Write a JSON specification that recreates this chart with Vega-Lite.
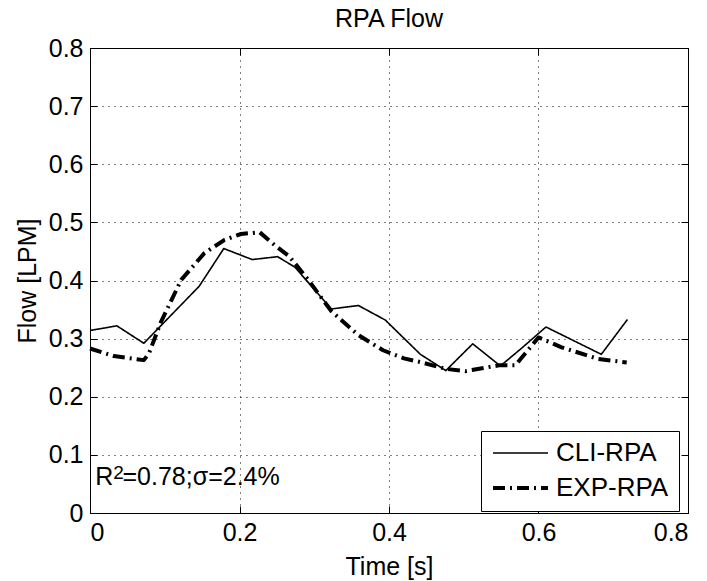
{
  "$schema": "https://vega.github.io/schema/vega-lite/v6.json",
  "width": 598,
  "height": 465,
  "autosize": {"type": "none"},
  "padding": {"left": 90, "top": 48, "right": 19, "bottom": 68},
  "background": "white",
  "title": {"text": "RPA Flow", "fontSize": 25, "fontWeight": "normal", "font": "Liberation Sans", "color": "black", "offset": 4},
  "config": {
    "view": {"stroke": "black", "strokeWidth": 1},
    "font": "Liberation Sans",
    "axis": {
      "labelFont": "Liberation Sans", "labelFontSize": 25, "labelColor": "black",
      "titleFont": "Liberation Sans", "titleFontSize": 25, "titleFontWeight": "normal", "titleColor": "black",
      "domainColor": "black", "tickColor": "black", "tickSize": -7, "tickWidth": 1,
      "gridColor": "black", "gridDash": [1, 5], "gridWidth": 1, "gridOpacity": 1
    },
    "legend": {
      "orient": "none", "legendX": 391, "legendY": 383,
      "strokeColor": "black", "fillColor": "white", "padding": 10,
      "labelFont": "Liberation Sans", "labelFontSize": 26, "labelColor": "black",
      "symbolSize": 3025, "symbolStrokeColor": "black", "rowPadding": 9, "labelOffset": 6,
      "clipHeight": 24,
      "title": null
    }
  },
  "data": {"values": [
    {"t": 0, "flow": 0.314, "series": "CLI-RPA"},
    {"t": 0.036, "flow": 0.322, "series": "CLI-RPA"},
    {"t": 0.072, "flow": 0.292, "series": "CLI-RPA"},
    {"t": 0.146, "flow": 0.39, "series": "CLI-RPA"},
    {"t": 0.179, "flow": 0.455, "series": "CLI-RPA"},
    {"t": 0.217, "flow": 0.436, "series": "CLI-RPA"},
    {"t": 0.251, "flow": 0.441, "series": "CLI-RPA"},
    {"t": 0.274, "flow": 0.423, "series": "CLI-RPA"},
    {"t": 0.323, "flow": 0.351, "series": "CLI-RPA"},
    {"t": 0.359, "flow": 0.357, "series": "CLI-RPA"},
    {"t": 0.395, "flow": 0.332, "series": "CLI-RPA"},
    {"t": 0.442, "flow": 0.273, "series": "CLI-RPA"},
    {"t": 0.476, "flow": 0.245, "series": "CLI-RPA"},
    {"t": 0.512, "flow": 0.291, "series": "CLI-RPA"},
    {"t": 0.549, "flow": 0.253, "series": "CLI-RPA"},
    {"t": 0.576, "flow": 0.282, "series": "CLI-RPA"},
    {"t": 0.61, "flow": 0.32, "series": "CLI-RPA"},
    {"t": 0.684, "flow": 0.273, "series": "CLI-RPA"},
    {"t": 0.719, "flow": 0.333, "series": "CLI-RPA"},
    {"t": 0, "flow": 0.283, "series": "EXP-RPA"},
    {"t": 0.032, "flow": 0.27, "series": "EXP-RPA"},
    {"t": 0.072, "flow": 0.263, "series": "EXP-RPA"},
    {"t": 0.079, "flow": 0.275, "series": "EXP-RPA"},
    {"t": 0.095, "flow": 0.329, "series": "EXP-RPA"},
    {"t": 0.122, "flow": 0.401, "series": "EXP-RPA"},
    {"t": 0.153, "flow": 0.447, "series": "EXP-RPA"},
    {"t": 0.18, "flow": 0.47, "series": "EXP-RPA"},
    {"t": 0.202, "flow": 0.48, "series": "EXP-RPA"},
    {"t": 0.227, "flow": 0.483, "series": "EXP-RPA"},
    {"t": 0.247, "flow": 0.461, "series": "EXP-RPA"},
    {"t": 0.267, "flow": 0.441, "series": "EXP-RPA"},
    {"t": 0.292, "flow": 0.401, "series": "EXP-RPA"},
    {"t": 0.323, "flow": 0.347, "series": "EXP-RPA"},
    {"t": 0.359, "flow": 0.306, "series": "EXP-RPA"},
    {"t": 0.392, "flow": 0.28, "series": "EXP-RPA"},
    {"t": 0.42, "flow": 0.266, "series": "EXP-RPA"},
    {"t": 0.444, "flow": 0.259, "series": "EXP-RPA"},
    {"t": 0.476, "flow": 0.248, "series": "EXP-RPA"},
    {"t": 0.502, "flow": 0.244, "series": "EXP-RPA"},
    {"t": 0.547, "flow": 0.254, "series": "EXP-RPA"},
    {"t": 0.569, "flow": 0.254, "series": "EXP-RPA"},
    {"t": 0.6, "flow": 0.302, "series": "EXP-RPA"},
    {"t": 0.631, "flow": 0.285, "series": "EXP-RPA"},
    {"t": 0.68, "flow": 0.265, "series": "EXP-RPA"},
    {"t": 0.718, "flow": 0.259, "series": "EXP-RPA"}
  ]},
  "layer": [
    {
      "mark": {"type": "line", "color": "black", "strokeJoin": "round"},
      "encoding": {
        "x": {"field": "t", "type": "quantitative", "scale": {"domain": [0, 0.8], "nice": false},
              "axis": {"title": "Time [s]", "values": [0, 0.2, 0.4, 0.6, 0.8], "format": ".1~f", "labelPadding": 14, "titlePadding": 9}},
        "y": {"field": "flow", "type": "quantitative", "scale": {"domain": [0, 0.8], "nice": false},
              "axis": {"title": "Flow [LPM]", "values": [0, 0.1, 0.2, 0.3, 0.4, 0.5, 0.6, 0.7, 0.8], "format": ".1~f", "labelPadding": 14, "titlePadding": 8}},
        "strokeDash": {"field": "series", "type": "nominal", "scale": {"domain": ["CLI-RPA", "EXP-RPA"], "range": [[1, 0], [12, 5, 2, 5]]}},
        "strokeWidth": {"field": "series", "type": "nominal", "scale": {"domain": ["CLI-RPA", "EXP-RPA"], "range": [1.6, 4]}}
      }
    },
    {
      "mark": {"type": "point", "opacity": 0},
      "encoding": {
        "x": {"field": "t", "type": "quantitative", "scale": {"domain": [0, 0.8], "nice": false},
              "axis": {"orient": "top", "title": null, "labels": false, "grid": false, "domain": false, "values": [0, 0.2, 0.4, 0.6, 0.8]}},
        "y": {"field": "flow", "type": "quantitative", "scale": {"domain": [0, 0.8], "nice": false},
              "axis": {"orient": "right", "title": null, "labels": false, "grid": false, "domain": false, "values": [0, 0.1, 0.2, 0.3, 0.4, 0.5, 0.6, 0.7, 0.8]}}
      }
    },
    {
      "data": {"values": [
        {"t": 0.007, "flow": 0.048, "label": "R"},
        {"t": 0.0435, "flow": 0.048, "label": "=0.78;σ=2.4%"}
      ]},
      "mark": {"type": "text", "align": "left", "baseline": "alphabetic", "fontSize": 25, "font": "Liberation Sans", "color": "black"},
      "encoding": {
        "x": {"field": "t", "type": "quantitative", "scale": {"domain": [0, 0.8], "nice": false}, "axis": null},
        "y": {"field": "flow", "type": "quantitative", "scale": {"domain": [0, 0.8], "nice": false}, "axis": null},
        "text": {"field": "label"}
      }
    },
    {
      "data": {"values": [
        {"t": 0.031, "flow": 0.058, "label": "2"}
      ]},
      "mark": {"type": "text", "align": "left", "baseline": "alphabetic", "fontSize": 19, "font": "Liberation Sans", "color": "black"},
      "encoding": {
        "x": {"field": "t", "type": "quantitative", "scale": {"domain": [0, 0.8], "nice": false}, "axis": null},
        "y": {"field": "flow", "type": "quantitative", "scale": {"domain": [0, 0.8], "nice": false}, "axis": null},
        "text": {"field": "label"}
      }
    }
  ],
  "resolve": {"axis": {"x": "independent", "y": "independent"}}
}
